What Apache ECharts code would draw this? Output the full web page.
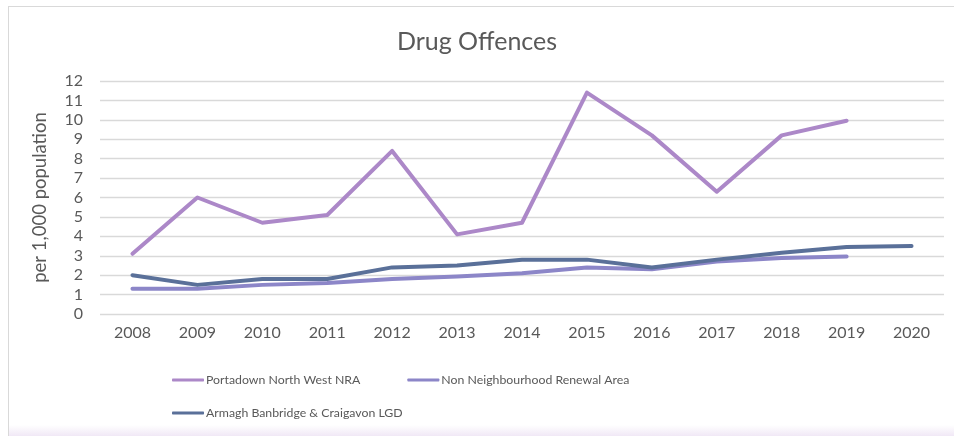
<!DOCTYPE html>
<html>
<head>
<meta charset="utf-8">
<script src="https://cdn.jsdelivr.net/npm/echarts@6/dist/echarts.min.js"></script>
<style>
html,body{margin:0;padding:0;background:#fff;}
#frame{position:absolute;left:8px;top:6px;width:946px;height:430px;border-left:1px solid #d9d9d9;border-top:1px solid #d9d9d9;box-sizing:border-box;background:linear-gradient(to bottom,#fff 0,#fff 418px,#efe6f5 430px);}
#chart{position:absolute;left:0;top:0;width:954px;height:436px;}
</style>
</head>
<body>
<div id="frame"></div>
<div id="chart"></div>
<script>
const categories = ['2008','2009','2010','2011','2012','2013','2014','2015','2016','2017','2018','2019','2020'];
const portadown = [3.1, 6.0, 4.7, 5.1, 8.4, 4.1, 4.7, 11.4, 9.2, 6.3, 9.2, 9.95, null];
const nonNRA = [1.3, 1.3, 1.5, 1.6, 1.8, 1.93, 2.1, 2.4, 2.3, 2.7, 2.88, 2.96, null];
const abcLGD = [2.0, 1.5, 1.8, 1.8, 2.4, 2.5, 2.8, 2.8, 2.4, 2.8, 3.15, 3.45, 3.5];
const seriesNames = ['Portadown North West NRA', 'Non Neighbourhood Renewal Area', 'Armagh Banbridge & Craigavon LGD'];
const colors = ['#ac88c8', '#8c86c8', '#5a7099'];

const font = 'Lato, "Open Sans", sans-serif';
const chart = echarts.init(document.getElementById('chart'), null, {renderer: 'canvas'});
const mkSeries = (name, data, color) => ({
  name, type: 'line', data, symbol: 'none', connectNulls: false,
  lineStyle: {color, width: 4, cap: 'round', join: 'round'},
  itemStyle: {color}
});
const legendText = {fontFamily: font, fontSize: 12.3, color: '#595959', padding: [0, 0, 0, -3]};
chart.setOption({
  backgroundColor: 'transparent',
  animation: false,
  title: {
    text: 'Drug Offences', left: 'center', top: 24,
    textStyle: {fontFamily: font, fontSize: 25, fontWeight: 'normal', color: '#595959'}
  },
  legend: [{
    data: [seriesNames[0], seriesNames[1]],
    left: 167, top: 369, itemWidth: 32, itemHeight: 3, itemGap: 47,
    icon: 'roundRect', textStyle: legendText
  }, {
    data: [seriesNames[2]],
    left: 167, top: 402, itemWidth: 32, itemHeight: 3,
    icon: 'roundRect', textStyle: legendText
  }],
  grid: {left: 100, right: 10, top: 81, bottom: 122, containLabel: false},
  xAxis: {
    type: 'category', data: categories, boundaryGap: true,
    axisLine: {show: false}, axisTick: {show: false},
    axisLabel: {fontFamily: font, fontSize: 16, color: '#595959', margin: 11}
  },
  yAxis: {
    type: 'value', min: 0, max: 12, interval: 1,
    name: 'per 1,000 population', nameLocation: 'middle', nameGap: 50, nameRotate: 90,
    nameTextStyle: {fontFamily: font, fontSize: 18.5, color: '#595959'},
    axisLine: {show: false}, axisTick: {show: false},
    axisLabel: {fontFamily: font, fontSize: 16, color: '#595959', margin: 17},
    splitLine: {lineStyle: {color: '#d9d9d9', width: 1.3}}
  },
  series: [
    mkSeries(seriesNames[0], portadown, colors[0]),
    mkSeries(seriesNames[1], nonNRA, colors[1]),
    mkSeries(seriesNames[2], abcLGD, colors[2])
  ]
});
</script>
</body>
</html>
